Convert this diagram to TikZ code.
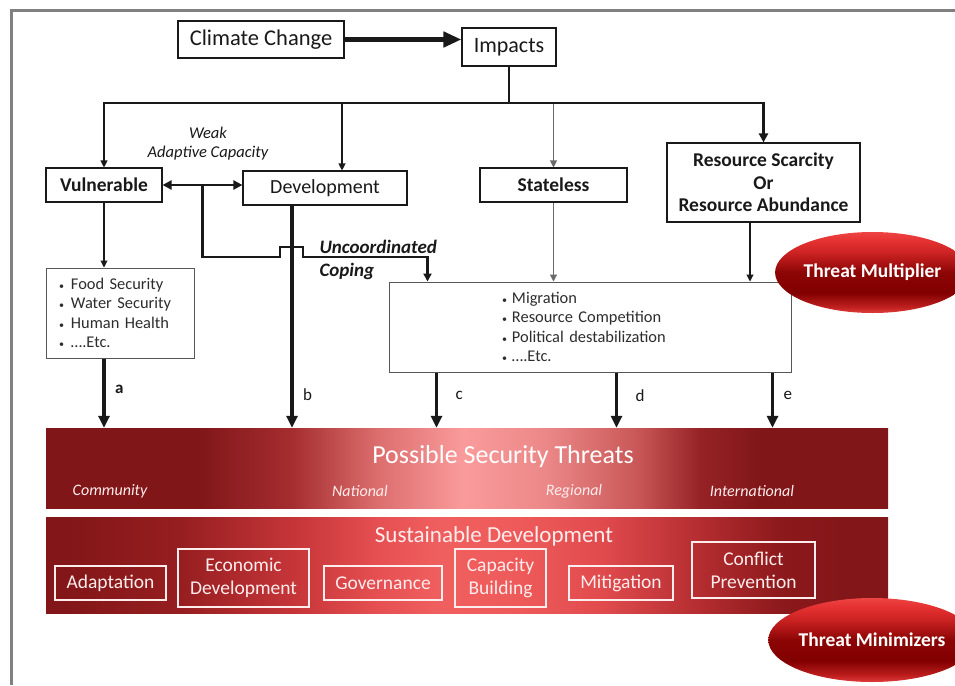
\documentclass[tikz,border=0pt]{standalone}
\usepackage{fontspec}
\setmainfont{Carlito}
\usetikzlibrary{arrows.meta,calc,shapes.geometric}

\definecolor{framegray}{RGB}{128,128,128}
\definecolor{ink}{RGB}{25,25,25}
\definecolor{listink}{RGB}{45,45,45}
\definecolor{pale}{RGB}{255,236,236}
% band colours
\definecolor{bdk}{RGB}{128,22,24}
\definecolor{ba1}{RGB}{165,45,48}
\definecolor{ba2}{RGB}{220,110,110}
\definecolor{ba3}{RGB}{250,155,155}
\definecolor{ba4}{RGB}{235,135,135}
\definecolor{ba5}{RGB}{200,85,85}
\definecolor{ba6}{RGB}{150,35,38}
\definecolor{sdk}{RGB}{130,22,24}
\definecolor{sb1}{RGB}{150,30,32}
\definecolor{sb2}{RGB}{200,55,58}
\definecolor{sb3}{RGB}{230,80,82}
\definecolor{sb4}{RGB}{240,95,95}
\definecolor{sb5}{RGB}{238,90,90}
\definecolor{sb6}{RGB}{225,75,78}
\definecolor{sb7}{RGB}{180,45,48}
\definecolor{sb8}{RGB}{140,25,28}
% badge colours, listed from the top rim down
\definecolor{el0}{RGB}{225,60,60}
\definecolor{el1}{RGB}{190,30,30}
\definecolor{el2}{RGB}{130,0,0}
\definecolor{el3}{RGB}{140,5,5}
\definecolor{el4}{RGB}{205,35,35}
\definecolor{el5}{RGB}{230,50,50}
\definecolor{el6}{RGB}{238,68,68}

\pgfdeclarehorizontalshading{threatband}{100bp}{
  color(0bp)=(bdk); color(25bp)=(bdk); color(34bp)=(bdk);
  color(39.6bp)=(ba1); color(44.7bp)=(ba2); color(49.8bp)=(ba3);
  color(54.8bp)=(ba4); color(60.3bp)=(ba5); color(63.8bp)=(ba6);
  color(67.4bp)=(bdk); color(75bp)=(bdk); color(100bp)=(bdk)}
\pgfdeclarehorizontalshading{sdband}{100bp}{
  color(0bp)=(sdk); color(25bp)=(sdk); color(26bp)=(sdk);
  color(33bp)=(sb1); color(40.1bp)=(sb2); color(44.8bp)=(sb3);
  color(48.4bp)=(sb4); color(53.1bp)=(sb5); color(57.9bp)=(sb6);
  color(63.8bp)=(sb7); color(68.6bp)=(sb8); color(72.7bp)=(sdk);
  color(75bp)=(sdk); color(100bp)=(sdk)}
% the picture flips the y axis, so 25bp is the top of the badge here
\pgfdeclareverticalshading{threatball}{100bp}{
  color(0bp)=(el0); color(25bp)=(el0); color(29bp)=(el1);
  color(37.5bp)=(el2); color(50bp)=(el3); color(62.5bp)=(el4);
  color(70bp)=(el5); color(75bp)=(el6); color(100bp)=(el6)}

\newcommand{\bul}{{\fontsize{10}{10}\selectfont\textbullet}}

\begin{document}
\begin{tikzpicture}[x=1pt,y=-1pt,
  box/.style={draw=ink,line width=1.1pt,fill=white,inner sep=2pt,align=center,
    text=ink,font={\fontsize{20}{22.5}\selectfont}},
  boldbox/.style={box,font={\fontsize{19.5}{22.5}\selectfont\bfseries}},
  listbox/.style={draw=listink!80,line width=1pt,fill=white,inner sep=2pt,align=left,
    text=listink,font={\fontsize{16.4}{19.5}\selectfont}},
  thinarrow/.style={draw=ink,line width=1.1pt,-{Triangle[length=7,width=7]}},
  thinline/.style={draw=ink,line width=1.1pt},
  thickarrow/.style={draw=ink,line width=3.5pt,-{Triangle[length=12,width=11]}},
  midarrow/.style={draw=ink,line width=2.6pt,{Triangle[length=9,width=9]}-{Triangle[length=9,width=9]}},
  letter/.style={text=ink,font={\fontsize{17}{19}\selectfont}},
  band/.style={draw=none,inner sep=0pt},
  inbox/.style={draw=pale,line width=1.3pt,inner sep=1pt,align=center,text=pale,
    font={\fontsize{19.5}{23}\selectfont}},
  bandlabel/.style={text=pale,font={\fontsize{16}{18}\selectfont\itshape}},
  threat/.style={ellipse,shading=threatball,inner sep=0pt,
    text=white,font={\fontsize{19.5}{21}\selectfont\bfseries}}]

\useasboundingbox (0,0) rectangle (955,685);
\fill[white] (0,0) rectangle (955,685);

% page frame
\draw[framegray,line width=3pt] (10,11) -- (955,11);
\draw[framegray,line width=3pt] (11,10) -- (11,685);

% boxes of the causal chain
\node[box,font={\fontsize{22.5}{24}\selectfont},minimum width=166,minimum height=37] (cc) at (261,39.5) {Climate Change};
\node[box,font={\fontsize{22}{24}\selectfont},minimum width=94,minimum height=38] (imp) at (509,47) {Impacts};
\node[boldbox,minimum width=116,minimum height=34] (vul) at (104,185) {Vulnerable};
\node[box,minimum width=164,minimum height=34] (dev) at (325,188) {Development};
\node[boldbox,minimum width=147,minimum height=34] (stl) at (553.5,185) {Stateless};
\node[boldbox,minimum width=193,minimum height=79] (res) at (763.5,182.5) {Resource Scarcity\\Or\\Resource Abundance};

\node[listbox,minimum width=148,minimum height=90,text width=122] (food) at (120,313) {%
  \bul\hspace{7pt}Food Security\\
  \bul\hspace{7pt}Water Security\\
  \bul\hspace{7pt}Human Health\\
  \bul\hspace{7pt}\dots.Etc.};
\node[listbox,minimum width=402,minimum height=90,text width=176] (mig) at (590,327) {%
  \bul\hspace{5pt}Migration\\
  \bul\hspace{5pt}Resource Competition\\
  \bul\hspace{5pt}Political destabilization\\
  \bul\hspace{5pt}\dots.Etc.};

% captions
\node[text=ink,align=center,font={\fontsize{16.5}{19}\selectfont\itshape}] (weak) at (208,143.5) {Weak\\Adaptive Capacity};
\node[text=ink,align=left,anchor=west,font={\fontsize{19}{23}\selectfont\bfseries\itshape}] (unco) at (316,259.5) {Uncoordinated\\Coping};

% bands
\node[band,shading=threatband,minimum width=842,minimum height=80] (pst) at (467,468) {};
\node[text=white,font={\fontsize{26}{28}\selectfont}] (pstt) at (503,457) {Possible Security Threats};
\node[bandlabel] (l1) at (110,491) {Community};
\node[bandlabel] (l2) at (360,491) {National};
\node[bandlabel] (l3) at (574,491) {Regional};
\node[bandlabel] (l4) at (752,491) {International};

\node[band,shading=sdband,minimum width=842,minimum height=96] (sd) at (467,565) {};
\node[text=pale,font={\fontsize{23}{25}\selectfont}] (sdt) at (494,536) {Sustainable Development};
\node[inbox,minimum width=111,minimum height=34] (s1) at (110.5,583) {Adaptation};
\node[inbox,minimum width=131,minimum height=58] (s2) at (243.5,578) {Economic\\Development};
\node[inbox,minimum width=118,minimum height=34] (s3) at (383,583) {Governance};
\node[inbox,minimum width=91,minimum height=58] (s4) at (500.5,578) {Capacity\\Building};
\node[inbox,minimum width=104,minimum height=34] (s5) at (621,583) {Mitigation};
\node[inbox,minimum width=123,minimum height=56] (s6) at (753.5,570) {Conflict\\Prevention};

% connectors
\coordinate (jy) at (0,103);
\draw[ink,line width=5pt,-{Triangle[length=18,width=15]}] (cc.east) -- (cc.east -| imp.west);
\draw[thinline] (imp.south) -- (imp.south |- jy);
\draw[thinarrow] (imp.south |- jy) -| (vul.north);
\draw[thinarrow] ([xshift=17]dev.north |- jy) -- ([xshift=17]dev.north);
\draw[thinarrow,draw=ink!65] (stl.north |- jy) -- (stl.north);
\draw[draw=ink,line width=2.2pt,-{Triangle[length=9,width=9]}] (imp.south |- jy) -| (res.north);

\draw[midarrow] (vul.east) -- (vul.east -| dev.west);
\coordinate (dj) at ($(vul.east)!0.5!(vul.east -| dev.west)$);
\draw[draw=ink,line width=2.6pt,-{Triangle[length=8,width=8]}]
  (dj) |- (280,257) -- (280,247) -- (303,247) -- (303,257) -| ([xshift=39]mig.north west);

\draw[thinarrow] (vul.south) -- (vul.south |- food.north);
\draw[thinarrow,draw=ink!65] (stl.south) -- (stl.south |- mig.north);
\draw[thinarrow] ([xshift=-13.5]res.south) -- ([xshift=-13.5]res.south |- mig.north);

\draw[thickarrow] (vul.south |- food.south) -- (vul.south |- pst.north)
  node[pos=0.45,right=6pt,letter,font={\fontsize{17}{19}\selectfont\bfseries}] {a};
\draw[thickarrow] ([xshift=-33]dev.south) -- ([xshift=-33]dev.south |- pst.north)
  node[pos=0.85,right=6pt,letter] {b};
\draw[thickarrow] ([xshift=48]mig.south west) -- ([xshift=48]mig.south west |- pst.north)
  node[pos=0.42,right=14pt,letter] {c};
\draw[thickarrow] ([xshift=228]mig.south west) -- ([xshift=228]mig.south west |- pst.north)
  node[pos=0.42,right=14pt,letter] {d};
\draw[thickarrow] ([xshift=384]mig.south west) -- ([xshift=384]mig.south west |- pst.north)
  node[pos=0.42,right=6pt,letter] {e};

% threat badges
\node[threat,minimum width=162,minimum height=81] (tm) at (872.5,272.5) {Threat Multiplier};
\node[threat,minimum width=166,minimum height=84] (tz) at (872,640) {Threat Minimizers};

\end{tikzpicture}
\end{document}
